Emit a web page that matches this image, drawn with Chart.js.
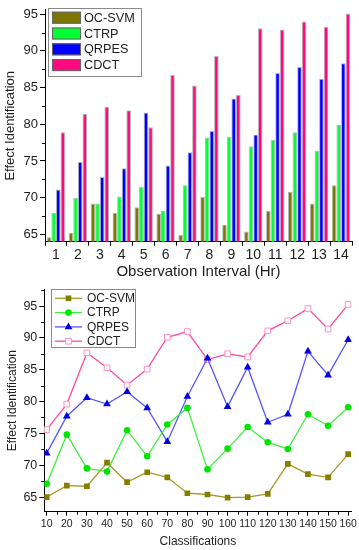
<!DOCTYPE html>
<html lang="en">
<head>
<meta charset="UTF-8">
<title>Effect Identification</title>
<script src="https://cdn.jsdelivr.net/npm/chart.js"></script>
<style>
  body { margin: 0; background: #fff; }
  .graf { position: absolute; left: 0; }
</style>
</head>
<body>
<canvas id="grafBarras" class="graf" style="top:0" width="359" height="280"></canvas>
<canvas id="grafLinhas" class="graf" style="top:280px" width="359" height="270"></canvas>
<script>
// dados do grafico de barras (Observation Interval)
const intervalos = ['1', '2', '3', '4', '5', '6', '7', '8', '9', '10', '11', '12', '13', '14'];
const barOcsvm = [64.6, 65.2, 69.2, 67.9, 68.7, 67.8, 64.9, 70.1, 66.3, 65.4, 68.2, 70.8, 69.2, 71.7];
const barCtrp  = [67.9, 70.0, 69.2, 70.15, 71.5, 68.2, 71.7, 78.2, 78.3, 77.0, 77.9, 78.9, 76.4, 79.9];
const barQrpes = [71.1, 74.85, 72.8, 74.0, 81.6, 74.4, 76.2, 79.1, 83.5, 78.6, 87.0, 87.8, 86.2, 88.3];
const barCdct  = [78.9, 81.4, 82.4, 81.9, 79.6, 86.7, 85.3, 89.3, 84.0, 93.1, 92.9, 94.0, 93.3, 95.1];

// dados do grafico de linhas (Classifications)
const classificacoes = [10, 20, 30, 40, 50, 60, 70, 80, 90, 100, 110, 120, 130, 140, 150, 160];
const linOcsvm = [65.0, 66.8, 66.7, 70.4, 67.35, 68.9, 68.1, 65.6, 65.4, 64.9, 65.0, 65.5, 70.2, 68.6, 68.1, 71.75];
const linCtrp  = [67.1, 74.8, 69.5, 69.0, 75.5, 71.4, 76.4, 79.0, 69.35, 72.6, 76.0, 73.6, 72.55, 78.0, 76.2, 79.1];
const linQrpes = [71.9, 77.7, 80.6, 79.6, 81.55, 79.0, 73.7, 80.8, 86.8, 79.2, 85.4, 76.75, 78.0, 87.9, 84.15, 89.7];
const linCdct  = [75.6, 79.6, 87.65, 85.3, 82.6, 85.1, 90.1, 91.0, 86.6, 87.5, 87.0, 91.1, 92.7, 94.6, 91.4, 95.25];

const fonte = 'Arial, "Liberation Sans", sans-serif';
const corTexto = '#1e1e1e';

function pontos(valores) {
    return valores.map((v, i) => ({ x: classificacoes[i], y: v }));
}

// tracos menores nos eixos
const tracosMenores = {
    id: 'tracosMenores',
    afterDraw(chart, args, opts) {
        const ctx = chart.ctx;
        const area = chart.chartArea;
        ctx.save();
        ctx.strokeStyle = '#000';
        ctx.lineWidth = 1;
        if (opts.y) {
            const s = chart.scales.y;
            for (let k = Math.ceil(s.min / opts.y); k * opts.y <= s.max; k++) {
                if (k % 2 === 0) continue;
                const py = Math.round(s.getPixelForValue(k * opts.y)) + 0.5;
                ctx.beginPath();
                ctx.moveTo(area.left - 3, py);
                ctx.lineTo(area.left, py);
                ctx.stroke();
            }
        }
        if (opts.x) {
            const s = chart.scales.x;
            for (let k = Math.ceil(s.min / opts.x); k * opts.x <= s.max; k++) {
                if (k % 2 === 0) continue;
                const px = Math.round(s.getPixelForValue(k * opts.x)) + 0.5;
                ctx.beginPath();
                ctx.moveTo(px, area.bottom);
                ctx.lineTo(px, area.bottom + 3);
                ctx.stroke();
            }
        }
        ctx.restore();
    }
};

function marcador(ctx, ds, x, y) {
    ctx.fillStyle = ds.pointBackgroundColor;
    ctx.strokeStyle = ds.pointBorderColor;
    ctx.lineWidth = ds.pointBorderWidth || 1;
    const r = ds.pointRadius;
    ctx.beginPath();
    if (ds.pointStyle === 'circle') {
        ctx.arc(x, y, r, 0, Math.PI * 2);
    } else if (ds.pointStyle === 'triangle') {
        ctx.moveTo(x, y - r);
        ctx.lineTo(x + r * 0.87, y + r * 0.5);
        ctx.lineTo(x - r * 0.87, y + r * 0.5);
        ctx.closePath();
    } else {
        const m = r * Math.SQRT1_2;
        ctx.rect(x - m, y - m, 2 * m, 2 * m);
    }
    ctx.fill();
    if (ds.pointBorderWidth) ctx.stroke();
}

// legenda com caixa, como no original
const legendaCaixa = {
    id: 'legendaCaixa',
    afterDraw(chart, args, o) {
        const ctx = chart.ctx;
        ctx.save();
        ctx.strokeStyle = '#8a8a8a';
        ctx.lineWidth = 1;
        ctx.strokeRect(o.x + 0.5, o.y + 0.5, o.w, o.h);
        ctx.font = o.tamanho + 'px ' + fonte;
        ctx.textBaseline = 'middle';
        chart.data.datasets.forEach((ds, i) => {
            const cy = o.y + o.primeiro + i * o.passo;
            if (o.tipo === 'barra') {
                ctx.fillStyle = ds.backgroundColor;
                ctx.fillRect(o.x + 4, cy - 6, 29, 12);
                ctx.strokeStyle = '#666';
                ctx.strokeRect(o.x + 4.5, cy - 5.5, 28, 11);
            } else {
                ctx.strokeStyle = ds.borderColor;
                ctx.lineWidth = 1.3;
                ctx.beginPath();
                ctx.moveTo(o.x + 4, cy);
                ctx.lineTo(o.x + 31, cy);
                ctx.stroke();
                marcador(ctx, ds, o.x + 17.5, cy);
            }
            ctx.fillStyle = corTexto;
            ctx.fillText(ds.label, o.textoX, cy + 0.5);
        });
        ctx.restore();
    }
};

function barra(label, dados, cor) {
    return {
        label: label,
        data: dados,
        backgroundColor: cor,
        borderColor: 'rgba(70,70,70,0.4)',
        borderWidth: 1,
        barPercentage: 1,
        categoryPercentage: 0.84
    };
}

new Chart(document.getElementById('grafBarras'), {
    type: 'bar',
    data: {
        labels: intervalos,
        datasets: [
            barra('OC-SVM', barOcsvm, '#7d7600'),
            barra('CTRP', barCtrp, '#00ff33'),
            barra('QRPES', barQrpes, '#0000ff'),
            barra('CDCT', barCdct, '#ff0880')
        ]
    },
    options: {
        responsive: false,
        animation: false,
        devicePixelRatio: 1,
        layout: { padding: { top: 7, right: 7, left: 0, bottom: 0 } },
        plugins: {
            legend: { display: false },
            tooltip: { enabled: false },
            tracosMenores: { y: 2.5 },
            legendaCaixa: { tipo: 'barra', x: 48, y: 8, w: 93, h: 68, primeiro: 9.7, passo: 15.8, textoX: 84, tamanho: 12.7 }
        },
        scales: {
            x: {
                offset: true,
                grid: { offset: true, drawOnChartArea: false, tickLength: 4, color: '#000' },
                border: { color: '#000', width: 1 },
                ticks: { font: { size: 14, family: fonte }, color: corTexto, padding: 1, maxRotation: 0, autoSkip: false },
                title: { display: true, text: 'Observation Interval (Hr)', font: { size: 15, family: fonte }, color: corTexto, padding: { top: 0, bottom: -1 } },
                afterFit: s => { s.height = 38.3; }
            },
            y: {
                min: 64,
                max: 95.6,
                grid: { drawOnChartArea: false, tickLength: 5, color: '#000' },
                border: { color: '#000', width: 1 },
                ticks: { stepSize: 5, includeBounds: false, font: { size: 13, family: fonte }, color: corTexto, padding: 2 },
                title: { display: true, text: 'Effect Identification', font: { size: 13, family: fonte }, color: corTexto, padding: { top: 3, bottom: 0 } },
                afterFit: s => { s.width = 45; }
            }
        }
    },
    plugins: [tracosMenores, legendaCaixa]
});

new Chart(document.getElementById('grafLinhas'), {
    type: 'line',
    data: {
        datasets: [
            {
                label: 'OC-SVM', data: pontos(linOcsvm),
                borderColor: '#a59a2c', borderWidth: 1.3,
                pointStyle: 'rect', pointRadius: 4, pointBackgroundColor: '#857d00', pointBorderColor: '#857d00', pointBorderWidth: 0
            },
            {
                label: 'CTRP', data: pontos(linCtrp),
                borderColor: '#3ef03e', borderWidth: 1.3,
                pointStyle: 'circle', pointRadius: 3.3, pointBackgroundColor: '#00e600', pointBorderColor: '#00e600', pointBorderWidth: 0
            },
            {
                label: 'QRPES', data: pontos(linQrpes),
                borderColor: '#5555ff', borderWidth: 1.3,
                pointStyle: 'triangle', pointRadius: 4.5, pointBackgroundColor: '#0000e0', pointBorderColor: '#0000e0', pointBorderWidth: 0
            },
            {
                label: 'CDCT', data: pontos(linCdct),
                borderColor: '#ff4aa0', borderWidth: 1.3,
                pointStyle: 'rect', pointRadius: 4, pointBackgroundColor: '#ffffff', pointBorderColor: '#ff8fc4', pointBorderWidth: 1
            }
        ]
    },
    options: {
        responsive: false,
        animation: false,
        devicePixelRatio: 1,
        layout: { padding: { top: 6.7, right: 7.3, left: 0, bottom: 0 } },
        plugins: {
            legend: { display: false },
            tooltip: { enabled: false },
            tracosMenores: { y: 2.5, x: 5 },
            legendaCaixa: { tipo: 'linha', x: 51, y: 9, w: 84, h: 58, primeiro: 9.3, passo: 14.3, textoX: 87, tamanho: 12 }
        },
        scales: {
            x: {
                type: 'linear',
                min: 8.8,
                max: 161.7,
                grid: { drawOnChartArea: false, tickLength: 4, color: '#000' },
                border: { color: '#000', width: 1 },
                ticks: { stepSize: 10, includeBounds: false, font: { size: 10.5, family: fonte }, color: corTexto, padding: 2, maxRotation: 0, autoSkip: false },
                title: { display: true, text: 'Classifications', font: { size: 12, family: fonte }, color: corTexto, padding: { top: 0, bottom: 1 } },
                afterFit: s => { s.height = 38.3; }
            },
            y: {
                min: 62.7,
                max: 97.6,
                grid: { drawOnChartArea: false, tickLength: 5, color: '#000' },
                border: { color: '#000', width: 1 },
                ticks: { stepSize: 5, includeBounds: false, font: { size: 12.5, family: fonte }, color: corTexto, padding: 2 },
                title: { display: true, text: 'Effect Identification', font: { size: 12, family: fonte }, color: corTexto, padding: { top: 5, bottom: 0 } },
                afterFit: s => { s.width = 44.3; }
            }
        }
    },
    plugins: [tracosMenores, legendaCaixa]
});
</script>
</body>
</html>
